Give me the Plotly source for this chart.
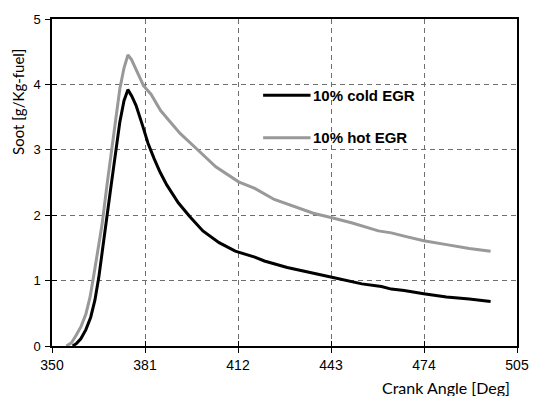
import plotly.graph_objects as go

cold_x = [356.9, 358.2, 359.6, 361.3, 362.9, 364.3, 365.6, 367.0, 368.3, 369.4, 370.5, 371.6,
          372.6, 374.0, 375.3, 376.6, 378.0, 380.2, 382.0, 384.0, 386.0, 388.3,
          392.1, 395.9, 400.3, 405.7, 411.1, 417.6, 420.8, 428.4, 435.0, 443.3, 453.3, 459.8,
          463.1, 467.4, 473.9, 481.5, 489.1, 496.2]
cold_y = [0.0, 0.04, 0.11, 0.25, 0.44, 0.70, 1.05, 1.50, 1.96, 2.35, 2.72, 3.10,
          3.42, 3.75, 3.92, 3.82, 3.68, 3.37, 3.10, 2.87, 2.66, 2.46,
          2.19, 1.98, 1.76, 1.58, 1.45, 1.36, 1.30, 1.20, 1.13, 1.05, 0.95, 0.91,
          0.87, 0.85, 0.80, 0.75, 0.72, 0.68]

hot_x = [354.8, 356.5, 358.0, 359.7, 361.3, 362.7, 364.0, 365.3, 366.7, 368.3, 369.9, 371.3,
         372.6, 374.0, 375.3, 376.5, 378.0, 380.5, 383.0, 386.2, 389.5,
         392.7, 398.1, 404.6, 412.2, 417.6, 424.1, 430.6, 437.1, 443.3, 450.1, 458.8, 463.1,
         467.4, 473.9, 481.5, 489.1, 496.2]
hot_y = [0.0, 0.05, 0.16, 0.30, 0.49, 0.75, 1.10, 1.45, 1.86, 2.45, 3.02, 3.50,
         3.93, 4.25, 4.45, 4.38, 4.23, 3.98, 3.85, 3.60, 3.42,
         3.25, 3.02, 2.74, 2.51, 2.41, 2.24, 2.13, 2.03, 1.96, 1.88, 1.76, 1.73,
         1.68, 1.61, 1.55, 1.49, 1.45]

x_ticks = [350, 381, 412, 443, 474, 505]
y_ticks = [0, 1, 2, 3, 4, 5]
series_names = ["10% cold EGR", "10% hot EGR"]
series_colors = ["#000000", "#999999"]

fig = go.Figure()
fig.add_trace(go.Scatter(x=cold_x, y=cold_y, mode="lines", name=series_names[0],
                         line=dict(color=series_colors[0], width=3), showlegend=False))
fig.add_trace(go.Scatter(x=hot_x, y=hot_y, mode="lines", name=series_names[1],
                         line=dict(color=series_colors[1], width=3), showlegend=False))
# dummy trace on overlay axes for crossing ticks
fig.add_trace(go.Scatter(x=[], y=[], xaxis="x2", yaxis="y2", showlegend=False))

tickfont = dict(family="Liberation Sans, Arial", size=14, color="#000")
fig.update_layout(
    width=541, height=396,
    margin=dict(l=52, r=12, t=16, b=50),
    paper_bgcolor="white", plot_bgcolor="white",
    xaxis=dict(range=[350, 505], tickvals=x_ticks, ticks="outside", ticklen=5,
               tickcolor="#000", tickwidth=1, showline=True, linecolor="#000",
               linewidth=2, mirror=True, showgrid=True, gridcolor="#6e6e6e",
               griddash="5px,4px", gridwidth=1, tickfont=tickfont, zeroline=False),
    yaxis=dict(range=[0, 5], tickvals=y_ticks, ticks="outside", ticklen=5,
               tickcolor="#000", tickwidth=1, showline=True, linecolor="#000",
               linewidth=1.5, mirror=True, showgrid=True, gridcolor="#6e6e6e",
               griddash="5px,4px", gridwidth=1,
               tickfont=dict(family="Liberation Sans, Arial", size=13, color="#000"),
               zeroline=False, ticklabelstandoff=2),
    xaxis2=dict(range=[350, 505], tickvals=x_ticks, overlaying="x", ticks="inside",
                ticklen=5, tickcolor="#000", showticklabels=False, showgrid=False,
                zeroline=False, showline=False),
    yaxis2=dict(range=[0, 5], tickvals=y_ticks, overlaying="y", ticks="inside",
                ticklen=5, tickcolor="#000", showticklabels=False, showgrid=False,
                zeroline=False, showline=False),
    showlegend=False,
)

# axis titles
fig.add_annotation(text="Crank Angle [Deg]", xref="paper", yref="paper", x=0.99, y=-0.093,
                   xanchor="right", yanchor="top", showarrow=False,
                   font=dict(family="Lato, Open Sans", size=16, color="#000"))
fig.add_annotation(text="Soot [g/Kg-fuel]", xref="paper", yref="paper", x=-0.072, y=0.745,
                   xanchor="center", yanchor="middle", textangle=-90, showarrow=False,
                   font=dict(family="Lato, Open Sans", size=15, color="#000"))

# manual legend
leg_y = [0.767, 0.637]
for name, color, ly in zip(series_names, series_colors, leg_y):
    fig.add_shape(type="line", xref="paper", yref="paper", x0=0.454, x1=0.556, y0=ly, y1=ly,
                  line=dict(color=color, width=3))
    fig.add_annotation(text="<b>%s</b>" % name, xref="paper", yref="paper", x=0.558, y=ly,
                       xanchor="left", yanchor="middle", showarrow=False,
                       font=dict(family="Liberation Sans, Arial", size=15, color="#000"))

fig.write_html("out.html")
